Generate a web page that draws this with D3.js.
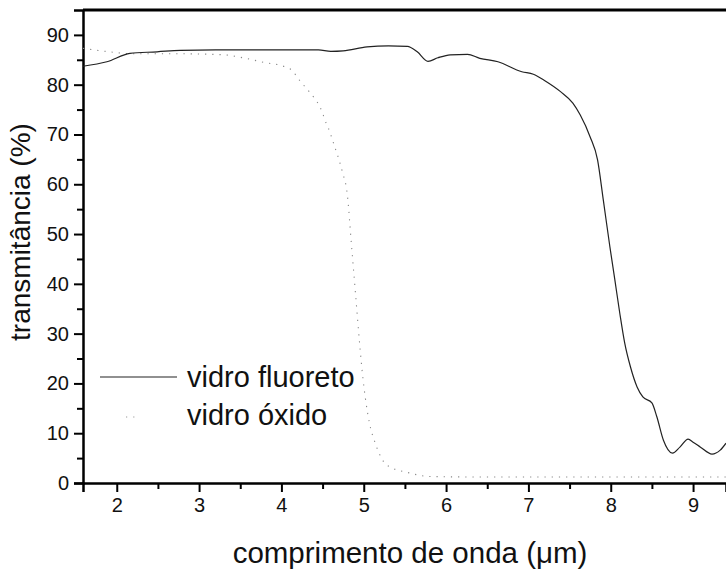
<!DOCTYPE html>
<html>
<head>
<meta charset="utf-8">
<script src="https://cdn.jsdelivr.net/npm/d3@7"></script>
<style>
  body { margin: 0; background: #fff; }
  text { font-family: "Liberation Sans", Arial, sans-serif; fill: #111; }
</style>
</head>
<body>
<div id="viz"></div>
<script>
// vidro fluoreto (linha cheia)
var fluoroX = [1.59, 1.88, 2.16, 2.49, 2.77, 3.2, 3.6, 4.0, 4.45, 4.6, 4.75, 5.04, 5.3, 5.53, 5.65, 5.78, 5.9, 6.05, 6.26, 6.41, 6.63, 6.92, 7.06, 7.2, 7.39, 7.54, 7.63, 7.75, 7.84, 7.91, 7.99, 8.05, 8.11, 8.17, 8.24, 8.32, 8.39, 8.5, 8.56, 8.64, 8.75, 8.84, 8.94, 9.0, 9.09, 9.23, 9.33, 9.4];
var fluoroT = [83.7, 84.6, 86.3, 86.6, 86.9, 87.0, 87.0, 87.0, 87.0, 86.7, 86.8, 87.6, 87.8, 87.7, 86.6, 84.7, 85.4, 86.0, 86.1, 85.3, 84.6, 82.6, 82.1, 80.8, 78.6, 76.3, 73.9, 69.5, 64.9, 56.8, 47.4, 40.8, 34.1, 28.1, 23.3, 19.3, 17.3, 16.1, 13.3, 8.6, 6.0, 7.2, 8.8, 8.2, 7.2, 5.8, 6.6, 8.0];

// vidro oxido (pontilhado)
var oxideX = [1.59, 1.91, 2.2, 2.8, 3.3, 3.5, 3.7, 3.78, 4.04, 4.14, 4.2, 4.26, 4.4, 4.46, 4.5, 4.53, 4.57, 4.6, 4.63, 4.74, 4.8, 4.85, 4.9, 4.95, 4.99, 5.02, 5.07, 5.14, 5.28, 5.56, 5.8, 6.5, 7.5, 8.5, 9.4];
var oxideT = [87.3, 86.6, 86.2, 86.2, 86.0, 85.5, 84.8, 84.5, 83.6, 82.7, 81.3, 80.1, 77.3, 75.8, 74.3, 72.8, 71.3, 69.9, 68.4, 62.5, 58.0, 48, 38, 28, 21, 17, 12, 8.0, 3.6, 2.0, 1.3, 1.2, 1.2, 1.2, 1.2];

var xTicks = [2, 3, 4, 5, 6, 7, 8, 9];
var yTicks = [0, 10, 20, 30, 40, 50, 60, 70, 80, 90];
var seriesNames = ['vidro fluoreto', 'vidro óxido'];

var chart = ({width: 726, height: 572});
var m = {left: 83, right: 0, top: 10, bottom: 89};

var svg = d3.select('#viz').append('svg')
  .attr('width', chart.width)
  .attr('height', chart.height);

var x = d3.scaleLinear().domain([1.59, 9.4]).range([m.left, chart.width - m.right]);
var y = d3.scaleLinear().domain([0, 95]).range([chart.height - m.bottom, m.top]);

// minor ticks first
svg.append('g')
  .attr('transform', 'translate(0,' + y(0) + ')')
  .call(d3.axisBottom(x).tickValues(d3.range(2.5, 9.4, 1)).tickSize(6).tickFormat(''))
  .call(g => g.select('.domain').remove())
  .selectAll('line').attr('stroke-width', 2);

svg.append('g')
  .attr('transform', 'translate(' + m.left + ',0)')
  .call(d3.axisLeft(y).tickValues(d3.range(5, 90, 10)).tickSize(6).tickFormat(''))
  .call(g => g.select('.domain').remove())
  .selectAll('line').attr('stroke-width', 2);

var xAxis = svg.append('g')
  .attr('transform', 'translate(0,' + y(0) + ')')
  .call(d3.axisBottom(x).tickValues(xTicks).tickSize(9).tickPadding(6).tickFormat(d3.format('d')));
xAxis.select('.domain').attr('stroke-width', 2.5);
xAxis.selectAll('line').attr('stroke-width', 2);
xAxis.selectAll('text').attr('font-size', 20).style('font-family', '"Liberation Sans", Arial, sans-serif');

var yAxis = svg.append('g')
  .attr('transform', 'translate(' + m.left + ',0)')
  .call(d3.axisLeft(y).tickValues(yTicks).tickSize(9).tickPadding(5).tickFormat(d3.format('d')));
yAxis.select('.domain').attr('stroke-width', 2.5);
yAxis.selectAll('line').attr('stroke-width', 2);
yAxis.selectAll('text').attr('font-size', 20).style('font-family', '"Liberation Sans", Arial, sans-serif');

// top frame
svg.append('line')
  .attr('x1', m.left).attr('x2', chart.width)
  .attr('y1', y(95)).attr('y2', y(95))
  .attr('stroke', '#000').attr('stroke-width', 3);

var line = d3.line().curve(d3.curveMonotoneX);

svg.append('path')
  .attr('d', line(oxideX.map((d, i) => [x(d), y(oxideT[i])])))
  .attr('fill', 'none')
  .attr('stroke', '#888')
  .attr('stroke-width', 1.1)
  .attr('stroke-dasharray', '1.2 6');

svg.append('path')
  .attr('d', line(fluoroX.map((d, i) => [x(d), y(fluoroT[i])])))
  .attr('fill', 'none')
  .attr('stroke', '#222')
  .attr('stroke-width', 1.2);

// legend
var legend = svg.append('g').attr('id', 'legend');
legend.append('line')
  .attr('x1', 100).attr('x2', 177).attr('y1', 377).attr('y2', 377)
  .attr('stroke', '#222').attr('stroke-width', 1.2);
legend.append('line')
  .attr('x1', 126).attr('x2', 140).attr('y1', 417).attr('y2', 417)
  .attr('stroke', '#999').attr('stroke-width', 1.1).attr('stroke-dasharray', '1.2 6');
legend.selectAll('text.lab')
  .data(seriesNames)
  .enter()
  .append('text')
  .attr('class', 'lab')
  .attr('x', 187)
  .attr('y', (d, i) => 387 + i * 38)
  .attr('font-size', 29)
  .text(d => d);

// axis titles
svg.append('text')
  .attr('x', 410)
  .attr('y', 563)
  .attr('text-anchor', 'middle')
  .attr('font-size', 29.5)
  .text('comprimento de onda (μm)');

svg.append('text')
  .attr('transform', 'translate(30,232) rotate(-90)')
  .attr('text-anchor', 'middle')
  .attr('font-size', 28)
  .text('transmitância (%)');
</script>
</body>
</html>
